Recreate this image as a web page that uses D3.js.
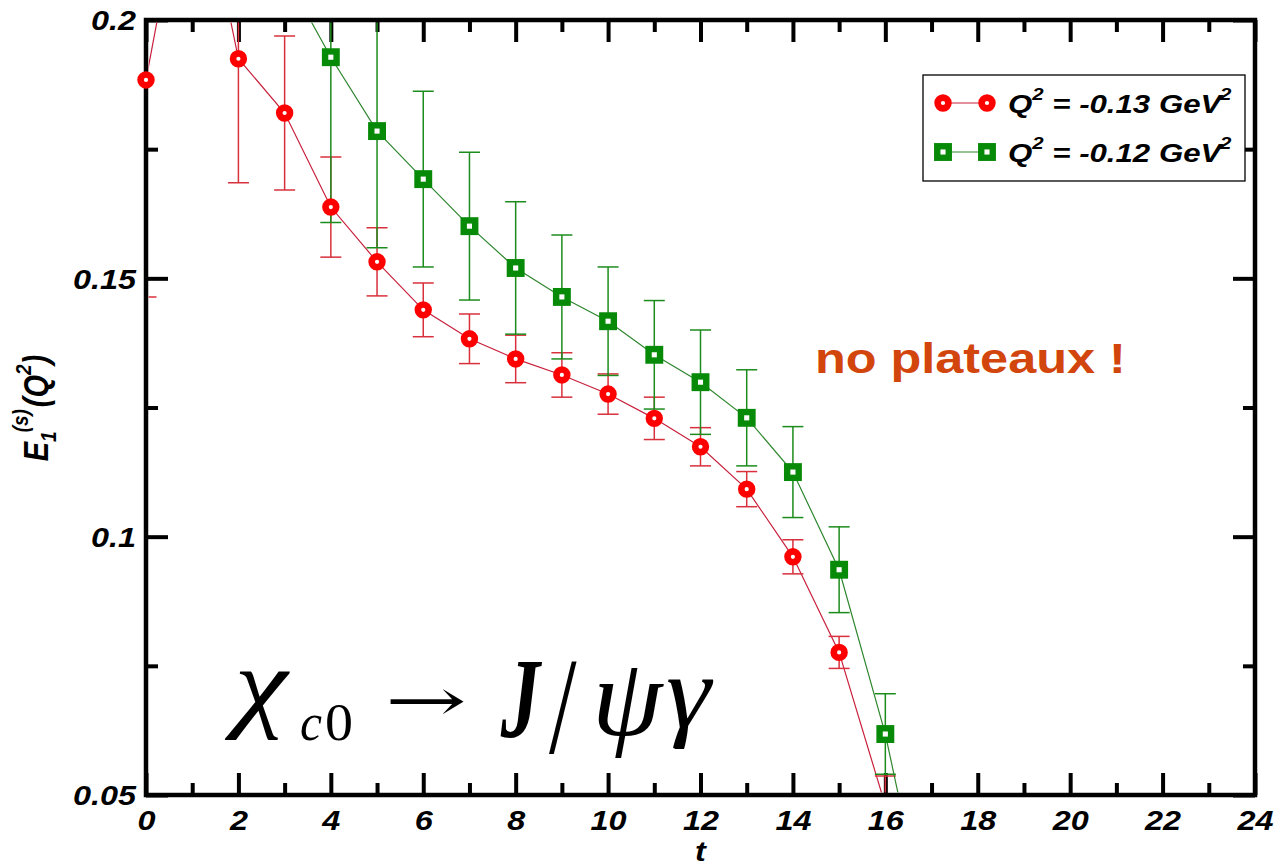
<!DOCTYPE html>
<html>
<head>
<meta charset="utf-8">
<script src="https://cdn.jsdelivr.net/npm/d3@7"></script>
<style>
  body { margin: 0; background: #ffffff; }
  svg { display: block; }
</style>
</head>
<body>
<svg id="chart" width="1277" height="865"></svg>
<script>
// Euclidean time slices
const tSlices = [0, 1, 2, 3, 4, 5, 6, 7, 8, 9, 10, 11, 12, 13, 14, 15, 16, 17];

// E_1^(s)(Q^2) at Q^2 = -0.13 GeV^2 (circles) and its statistical error
const seriesA = [0.1884, 0.236, 0.1925, 0.1820, 0.1638, 0.1532, 0.1439, 0.1383, 0.1344,
                 0.1313, 0.1276, 0.1229, 0.1174, 0.1092, 0.0961, 0.0776, 0.048, null];
const errorsA = [0.042, 0.030, 0.024, 0.0149, 0.0097, 0.0066, 0.0052, 0.0048, 0.0046,
                 0.0043, 0.0039, 0.0041, 0.0037, 0.0034, 0.0033, 0.0031, 0.0057, null];

// E_1^(s)(Q^2) at Q^2 = -0.12 GeV^2 (squares) and its statistical error
const seriesB = [null, null, null, 0.209, 0.1928, 0.1785, 0.1692, 0.1601, 0.1520,
                 0.1464, 0.1417, 0.1352, 0.1299, 0.1230, 0.1125, 0.0936, 0.0618, 0.020];
const errorsB = [null, null, null, null, 0.032, 0.0226, 0.0170, 0.0143, 0.0128,
                 0.0120, 0.0105, 0.0105, 0.0101, 0.0093, 0.0088, 0.0083, 0.0078, null];

const xTickLabels = [0, 2, 4, 6, 8, 10, 12, 14, 16, 18, 20, 22, 24];
const yTickLabels = [0.05, 0.1, 0.15, 0.2];
const legendLabels = ["-0.13", "-0.12"];

const svg = d3.select("#chart");
const W = 1277, H = 865;
const m = { left: 146, right: 1255, top: 20, bottom: 795 };
const STRETCH = 1.2;   // glyphs are drawn wide
const labelFont = "'Liberation Sans', Arial, Helvetica, sans-serif";
const mathFont = "'Liberation Serif', 'DejaVu Serif', serif";

svg.append("rect").attr("width", W).attr("height", H).attr("fill", "#ffffff");

const x = d3.scaleLinear().domain([0, 24]).range([m.left, m.right]);
const y = d3.scaleLinear().domain([0.05, 0.2]).range([m.bottom, m.top]);

const RED = "#ff0000", RED_LINE = "#c8203c", RED_ERR = "#d8303c";
const GREEN = "#078a07", GREEN_LINE = "#2e862e", GREEN_ERR = "#1c8c1c";

// ---- axes: major / minor ticks pointing inward on all four sides
function styleAxis(g, width) {
  g.select(".domain").remove();
  g.selectAll(".tick line").attr("stroke", "#000").attr("stroke-width", width);
}
const majorX = d3.range(0, 25, 2), minorX = d3.range(1, 24, 2);
const majorY = [0.05, 0.1, 0.15, 0.2], minorY = [0.075, 0.125, 0.175];

const axBottom = svg.append("g").attr("transform", `translate(0,${m.bottom})`)
  .call(d3.axisBottom(x).tickValues(xTickLabels).tickSizeInner(-22).tickSizeOuter(0).tickPadding(16).tickFormat(d3.format("d")));
styleAxis(axBottom, 4);
axBottom.selectAll(".tick text")
  .attr("font-family", labelFont).attr("font-weight", "bold").attr("font-style", "italic")
  .attr("font-size", 27).attr("fill", "#000")
  .attr("transform", `scale(${STRETCH},1)`);
svg.append("g").attr("transform", `translate(0,${m.bottom})`)
  .call(d3.axisBottom(x).tickValues(minorX).tickSizeInner(-12).tickSizeOuter(0).tickFormat(""))
  .call(g => styleAxis(g, 4));
svg.append("g").attr("transform", `translate(0,${m.top})`)
  .call(d3.axisTop(x).tickValues(majorX).tickSizeInner(-22).tickSizeOuter(0).tickFormat(""))
  .call(g => styleAxis(g, 4));
svg.append("g").attr("transform", `translate(0,${m.top})`)
  .call(d3.axisTop(x).tickValues(minorX).tickSizeInner(-12).tickSizeOuter(0).tickFormat(""))
  .call(g => styleAxis(g, 4));

const axLeft = svg.append("g").attr("transform", `translate(${m.left},0)`)
  .call(d3.axisLeft(y).tickValues(yTickLabels).tickSizeInner(-22).tickSizeOuter(0).tickPadding(0)
    .tickFormat(d => String(+d.toFixed(2))));
styleAxis(axLeft, 4);
axLeft.selectAll(".tick text")
  .attr("x", -10 / STRETCH).attr("dy", "0.36em")
  .attr("font-family", labelFont).attr("font-weight", "bold").attr("font-style", "italic")
  .attr("font-size", 27).attr("fill", "#000")
  .attr("transform", `scale(${STRETCH},1)`);
svg.append("g").attr("transform", `translate(${m.left},0)`)
  .call(d3.axisLeft(y).tickValues(minorY).tickSizeInner(-12).tickSizeOuter(0).tickFormat(""))
  .call(g => styleAxis(g, 4));
svg.append("g").attr("transform", `translate(${m.right},0)`)
  .call(d3.axisRight(y).tickValues(majorY).tickSizeInner(-22).tickSizeOuter(0).tickFormat(""))
  .call(g => styleAxis(g, 4));
svg.append("g").attr("transform", `translate(${m.right},0)`)
  .call(d3.axisRight(y).tickValues(minorY).tickSizeInner(-12).tickSizeOuter(0).tickFormat(""))
  .call(g => styleAxis(g, 4));

// frame
svg.append("rect")
  .attr("x", m.left).attr("y", m.top)
  .attr("width", m.right - m.left).attr("height", m.bottom - m.top)
  .attr("fill", "none").attr("stroke", "#000").attr("stroke-width", 4.5);

// ---- data
svg.append("clipPath").attr("id", "plotClip").append("rect")
  .attr("x", m.left + 2.5).attr("y", m.top + 2.5)
  .attr("width", m.right - m.left - 5).attr("height", m.bottom - m.top - 5);

const dataG = svg.append("g").attr("clip-path", "url(#plotClip)");

function pts(vals, errs) {
  return tSlices.map((t, i) => ({ t, v: vals[i], e: errs[i] })).filter(d => d.v != null);
}
const ptsA = pts(seriesA, errorsA), ptsB = pts(seriesB, errorsB);

const line = d3.line().x(d => x(d.t)).y(d => y(d.v));

function drawSeries(data, lineColor, errColor) {
  dataG.append("path").datum(data).attr("d", line)
    .attr("fill", "none").attr("stroke", lineColor).attr("stroke-width", 1.2);
  const eb = dataG.append("g").attr("stroke", errColor).attr("stroke-width", 1.5).attr("fill", "none");
  data.filter(d => d.e != null).forEach(d => {
    const cx = x(d.t), y0 = y(d.v - d.e), y1 = y(d.v + d.e), cw = 10.5;
    eb.append("line").attr("x1", cx).attr("x2", cx).attr("y1", y0).attr("y2", y1);
    eb.append("line").attr("x1", cx - cw).attr("x2", cx + cw).attr("y1", y0).attr("y2", y0);
    eb.append("line").attr("x1", cx - cw).attr("x2", cx + cw).attr("y1", y1).attr("y2", y1);
  });
}
drawSeries(ptsA, RED_LINE, RED_ERR);
drawSeries(ptsB, GREEN_LINE, GREEN_ERR);

const inRange = d => d.v >= 0.05 && d.v <= 0.2;
function circleMark(g, cx, cy) {
  g.append("circle").attr("cx", cx).attr("cy", cy).attr("r", 5.4)
    .attr("fill", "#ffffff").attr("stroke", RED).attr("stroke-width", 6.6);
}
function squareMark(g, cx, cy) {
  const s = 11.5;
  g.append("rect").attr("x", cx - s / 2).attr("y", cy - s / 2).attr("width", s).attr("height", s)
    .attr("fill", "#ffffff").attr("stroke", GREEN).attr("stroke-width", 6.4);
}
const markG = svg.append("g");
ptsA.filter(inRange).forEach(d => circleMark(markG, x(d.t), y(d.v)));
ptsB.filter(inRange).forEach(d => squareMark(markG, x(d.t), y(d.v)));

// ---- helper for horizontally widened text
function wideText(px, py, anchor, size, opts = {}) {
  const g = svg.append("g").attr("transform", `translate(${px},${py}) scale(${STRETCH},1)`);
  return g.append("text").attr("x", 0).attr("y", 0)
    .attr("text-anchor", anchor)
    .attr("font-family", opts.family || labelFont)
    .attr("font-weight", opts.weight || "bold")
    .attr("font-style", opts.style || "italic")
    .attr("font-size", size)
    .attr("fill", opts.fill || "#000");
}

// axis titles
wideText((m.left + m.right) / 2, 861, "middle", 27).text("t");

{
  const g = svg.append("g").attr("transform", `translate(48,408) scale(${STRETCH},1) rotate(-90)`);
  const t = g.append("text").attr("text-anchor", "middle")
    .attr("font-family", labelFont).attr("font-weight", "bold").attr("font-style", "italic")
    .attr("font-size", 29).attr("fill", "#000");
  t.append("tspan").text("E");
  t.append("tspan").attr("font-size", 19).attr("dy", 7).text("1");
  t.append("tspan").attr("font-size", 19).attr("dy", -24).attr("dx", -1).text("(s)");
  t.append("tspan").attr("dy", 17).attr("dx", 2).text("(Q");
  t.append("tspan").attr("font-size", 19).attr("dy", -14).text("2");
  t.append("tspan").attr("dy", 14).text(")");
}

// legend
const legend = svg.append("g");
legend.append("rect").attr("x", 923).attr("y", 75).attr("width", 322).attr("height", 106)
  .attr("fill", "#ffffff").attr("stroke", "#000").attr("stroke-width", 1.3);
const legendRows = [
  { label: legendLabels[0], color: RED_LINE, mark: circleMark, y: 103 },
  { label: legendLabels[1], color: GREEN_LINE, mark: squareMark, y: 152 }
];
legendRows.forEach(r => {
  legend.append("line").attr("x1", 943).attr("x2", 987).attr("y1", r.y).attr("y2", r.y)
    .attr("stroke", r.color).attr("stroke-width", 1.2);
  r.mark(legend, 943, r.y);
  r.mark(legend, 987, r.y);
  const t = wideText(1008, r.y + 10, "start", 26);
  t.append("tspan").text("Q");
  t.append("tspan").attr("font-size", 17).attr("dy", -13).text("2");
  t.append("tspan").attr("dy", 13).text(" = " + r.label + " GeV");
  t.append("tspan").attr("font-size", 17).attr("dy", -13).attr("dx", -1).text("2");
});

// annotation
wideText(815, 373, "start", 42, { style: "normal", fill: "#d2450c" }).text("no plateaux !");

// process label, set piece by piece; each glyph is scaled to its box width
const mathPieces = [
  { s: "χ",  x: 224, w: 66, y: 718, size: 102, italic: true,  family: mathFont },
  { s: "c",  x: 300, w: 22, y: 740, size: 52,  italic: true,  family: mathFont },
  { s: "0",  x: 325, w: 28, y: 740, size: 52,  italic: false, family: mathFont },
  { s: "→",  x: 385, w: 82, y: 721, size: 60,  italic: false, family: "'DejaVu Serif', serif" },
  { s: "J",  x: 500, w: 42, y: 737, size: 114, italic: true,  family: mathFont, bold: true },
  { s: "/",  x: 549, w: 28, y: 753, size: 138, italic: false, family: mathFont },
  { s: "ψ",  x: 592, w: 72, y: 735, size: 110, italic: true,  family: mathFont },
  { s: "γ",  x: 666, w: 48, y: 727, size: 104, italic: true,  family: mathFont }
];
const mathG = svg.append("g");
mathPieces.forEach(p => {
  const g = mathG.append("g");
  const t = g.append("text")
    .attr("x", 0).attr("y", 0)
    .attr("font-family", p.family)
    .attr("font-size", p.size)
    .attr("font-style", p.italic ? "italic" : "normal")
    .attr("font-weight", p.bold ? "bold" : "normal")
    .attr("fill", "#000")
    .text(p.s);
  const bb = t.node().getBBox();
  const k = bb.width > 0 ? p.w / bb.width : 1;
  g.attr("transform", `translate(${p.x - bb.x * k},${p.y}) scale(${k},1)`);
});
</script>
</body>
</html>
